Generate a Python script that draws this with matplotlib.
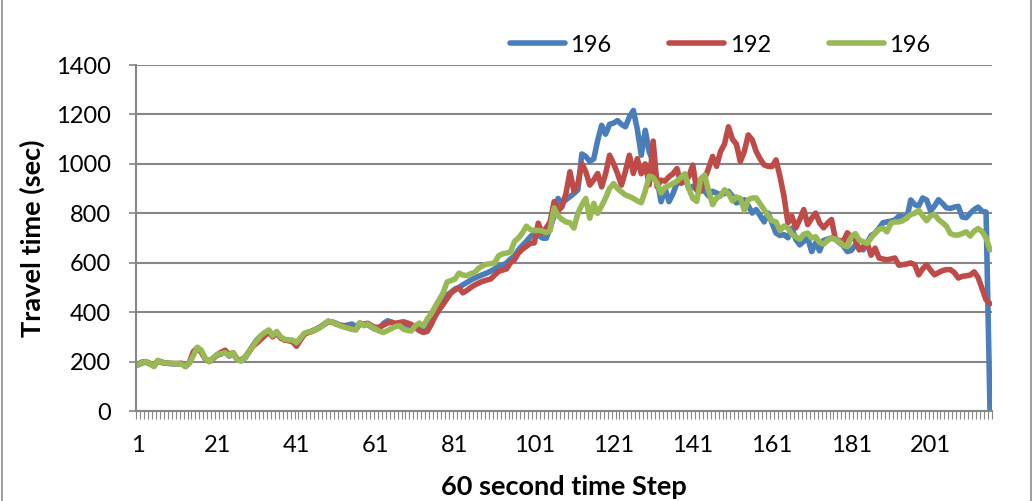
import numpy as np
import matplotlib
matplotlib.use("Agg")
import matplotlib.pyplot as plt
from matplotlib.patches import Rectangle

# series values, one value per 60 s step
blue_196 = [
    187, 194, 198, 190, 182, 203, 196, 193, 192, 191,
    191, 192, 182, 196, 240, 255, 238, 210, 202, 214,
    226, 230, 240, 222, 232, 210, 204, 214, 238, 265,
    288, 302, 315, 325, 303, 318, 298, 288, 285, 282,
    272, 292, 312, 318, 325, 332, 340, 350, 362, 360,
    355, 346, 345, 348, 352, 340, 356, 348, 350, 338,
    330, 335, 355, 365, 360, 350, 352, 345, 340, 338,
    335, 340, 330, 335, 370, 405, 430, 450, 470, 480,
    494, 500, 511, 520, 530, 538, 545, 552, 558, 566,
    575, 585, 590, 599, 615, 626, 652, 670, 686, 705,
    719, 712, 700, 699, 740, 790, 860, 840, 855, 867,
    880, 895, 1040, 1030, 1010, 1020, 1095, 1156, 1120, 1160,
    1165, 1175, 1160, 1150, 1190, 1216, 1140, 1035, 1136, 1048,
    1010, 934, 847, 900, 847, 880, 921, 940, 950, 900,
    909, 895, 900, 889, 870, 889, 882, 875, 880, 889,
    870, 842, 848, 855, 830, 801, 815, 790, 765, 801,
    760, 720, 710, 714, 701, 740, 694, 672, 687, 700,
    645, 681, 648, 690, 695, 700, 695, 681, 668, 645,
    650, 672, 660, 652, 680, 710, 720, 740, 762, 765,
    768, 773, 788, 787, 780, 854, 835, 830, 862, 854,
    810, 830, 855, 840, 822, 820, 825, 828, 785, 782,
    800, 815, 825, 808, 805, 0,
]
red_192 = [
    190, 198, 200, 193, 182, 203, 198, 194, 193, 192,
    192, 193, 180, 196, 240, 255, 238, 210, 200, 212,
    228, 238, 246, 228, 236, 210, 205, 218, 240, 262,
    275, 290, 305, 318, 300, 315, 295, 287, 285, 280,
    262, 288, 310, 318, 322, 330, 340, 352, 362, 360,
    352, 348, 345, 338, 332, 330, 352, 352, 355, 345,
    338, 340, 348, 356, 358, 355, 358, 361, 356, 350,
    338, 325, 318, 322, 350, 384, 410, 431, 455, 478,
    490, 498, 478, 488, 500, 510, 518, 525, 530, 534,
    550, 565, 570, 575, 600, 612, 639, 655, 666, 679,
    680, 760, 720, 740, 766, 847, 810, 827, 880, 968,
    890, 920, 1001, 968, 914, 935, 961, 907, 960, 1035,
    1001, 961, 914, 970, 1035, 961, 1021, 960, 1000, 915,
    1092, 907, 934, 930, 948, 960, 981, 921, 930, 949,
    995, 894, 889, 940, 983, 1030, 990, 1050, 1080, 1150,
    1100, 1080, 1009, 1050, 1117, 1097, 1050, 1020, 996, 990,
    989, 1016, 949, 870, 761, 788, 741, 775, 815, 754,
    780, 801, 761, 741, 760, 775, 694, 690, 687, 721,
    705, 693, 652, 665, 680, 630, 659, 619, 615, 612,
    615, 619, 590, 592, 595, 599, 592, 551, 575, 592,
    570, 551, 560, 568, 572, 572, 560, 538, 545, 547,
    550, 563, 540, 495, 450, 434,
]
green_196 = [
    185, 196, 200, 192, 180, 205, 197, 194, 193, 192,
    192, 190, 180, 195, 225, 258, 245, 212, 200, 215,
    228, 232, 236, 225, 236, 208, 202, 215, 240, 262,
    285, 305, 318, 328, 305, 322, 300, 290, 288, 287,
    276, 296, 315, 320, 323, 330, 338, 352, 364, 360,
    352, 345, 340, 335, 330, 328, 358, 345, 352, 340,
    332, 322, 318, 326, 334, 342, 345, 331, 326, 324,
    345, 356, 344, 372, 393, 423, 450, 478, 522, 528,
    534, 558, 550, 548, 556, 561, 578, 588, 594, 596,
    600, 628, 636, 639, 643, 686, 700, 720, 748, 734,
    730, 731, 728, 722, 730, 822, 790, 775, 765, 762,
    740, 800, 834, 860, 780, 840, 800, 830, 862, 900,
    920, 900, 887, 874, 868, 860, 850, 843, 890, 950,
    945, 921, 882, 905, 912, 921, 930, 945, 960, 900,
    860, 848, 940, 955, 890, 835, 862, 870, 895, 880,
    850, 866, 860, 812, 855, 862, 862, 838, 815, 790,
    770, 765, 730, 748, 740, 715, 705, 695, 715, 720,
    700, 705, 682, 675, 690, 700, 695, 685, 670, 665,
    705, 718, 692, 685, 678, 700, 720, 735, 740, 725,
    760, 765, 765, 770, 782, 795, 800, 812, 790, 770,
    790, 795, 775, 762, 748, 718, 712, 712, 718, 725,
    708, 728, 738, 726, 700, 652,
]
series_labels = ["196", "192", "196"]
y_ticks = [0, 200, 400, 600, 800, 1000, 1200, 1400]
x_ticks = [1, 21, 41, 61, 81, 101, 121, 141, 161, 181, 201]

colors = ["#4A7EBB", "#BE4B48", "#98B954"]
grid_c = "#878787"
plt.rcParams['font.family'] = ['Lato', 'DejaVu Sans']

fig = plt.figure(figsize=(10.33, 5.01), dpi=100)
# outer chart border
fig.patches.append(Rectangle((0.002, -0.01), 0.996, 1.02, transform=fig.transFigure,
                             fill=False, edgecolor="#8c8c8c", lw=1.2))

ax = fig.add_axes([136 / 1033, 1 - 411 / 501, 856 / 1033, 346 / 501])
n = len(blue_196)
steps = np.arange(1, n + 1)
for vals, c, lab in zip([blue_196, red_192, green_196], colors, series_labels):
    ax.plot(steps, vals, color=c, lw=4.0, label=lab, solid_joinstyle="round",
            solid_capstyle="round")

ax.set_xlim(0.5, n + 0.5)
ax.set_ylim(0, 1400)
ax.set_yticks(y_ticks)
ax.set_xticks(x_ticks)
ax.set_xticks(np.arange(0.5, n + 1, 1), minor=True)
ax.tick_params(axis="x", which="major", length=0, pad=17, labelsize=17)
ax.tick_params(axis="x", which="minor", length=6, width=0.8, color=grid_c, direction="out")
ax.tick_params(axis="y", length=5, width=1.2, color=grid_c, labelsize=17, pad=13)
ax.grid(axis="y", color=grid_c, lw=1.5)
ax.set_axisbelow(True)
for s in ["top", "right"]:
    ax.spines[s].set_visible(False)
for s in ["left", "bottom"]:
    ax.spines[s].set_color(grid_c)
    ax.spines[s].set_linewidth(1.5)

ax.set_ylabel("Travel time (sec)", fontsize=19.5, fontweight="bold", labelpad=8)
ax.set_xlabel("60 second time Step", fontsize=19.5, fontweight="bold", labelpad=14)

fig.legend(loc="center", bbox_to_anchor=(0.697, 0.91), ncol=3, frameon=False,
           fontsize=17, handlelength=2.33, handletextpad=0.22, columnspacing=2.45)

fig.savefig("out.png", dpi=100)
